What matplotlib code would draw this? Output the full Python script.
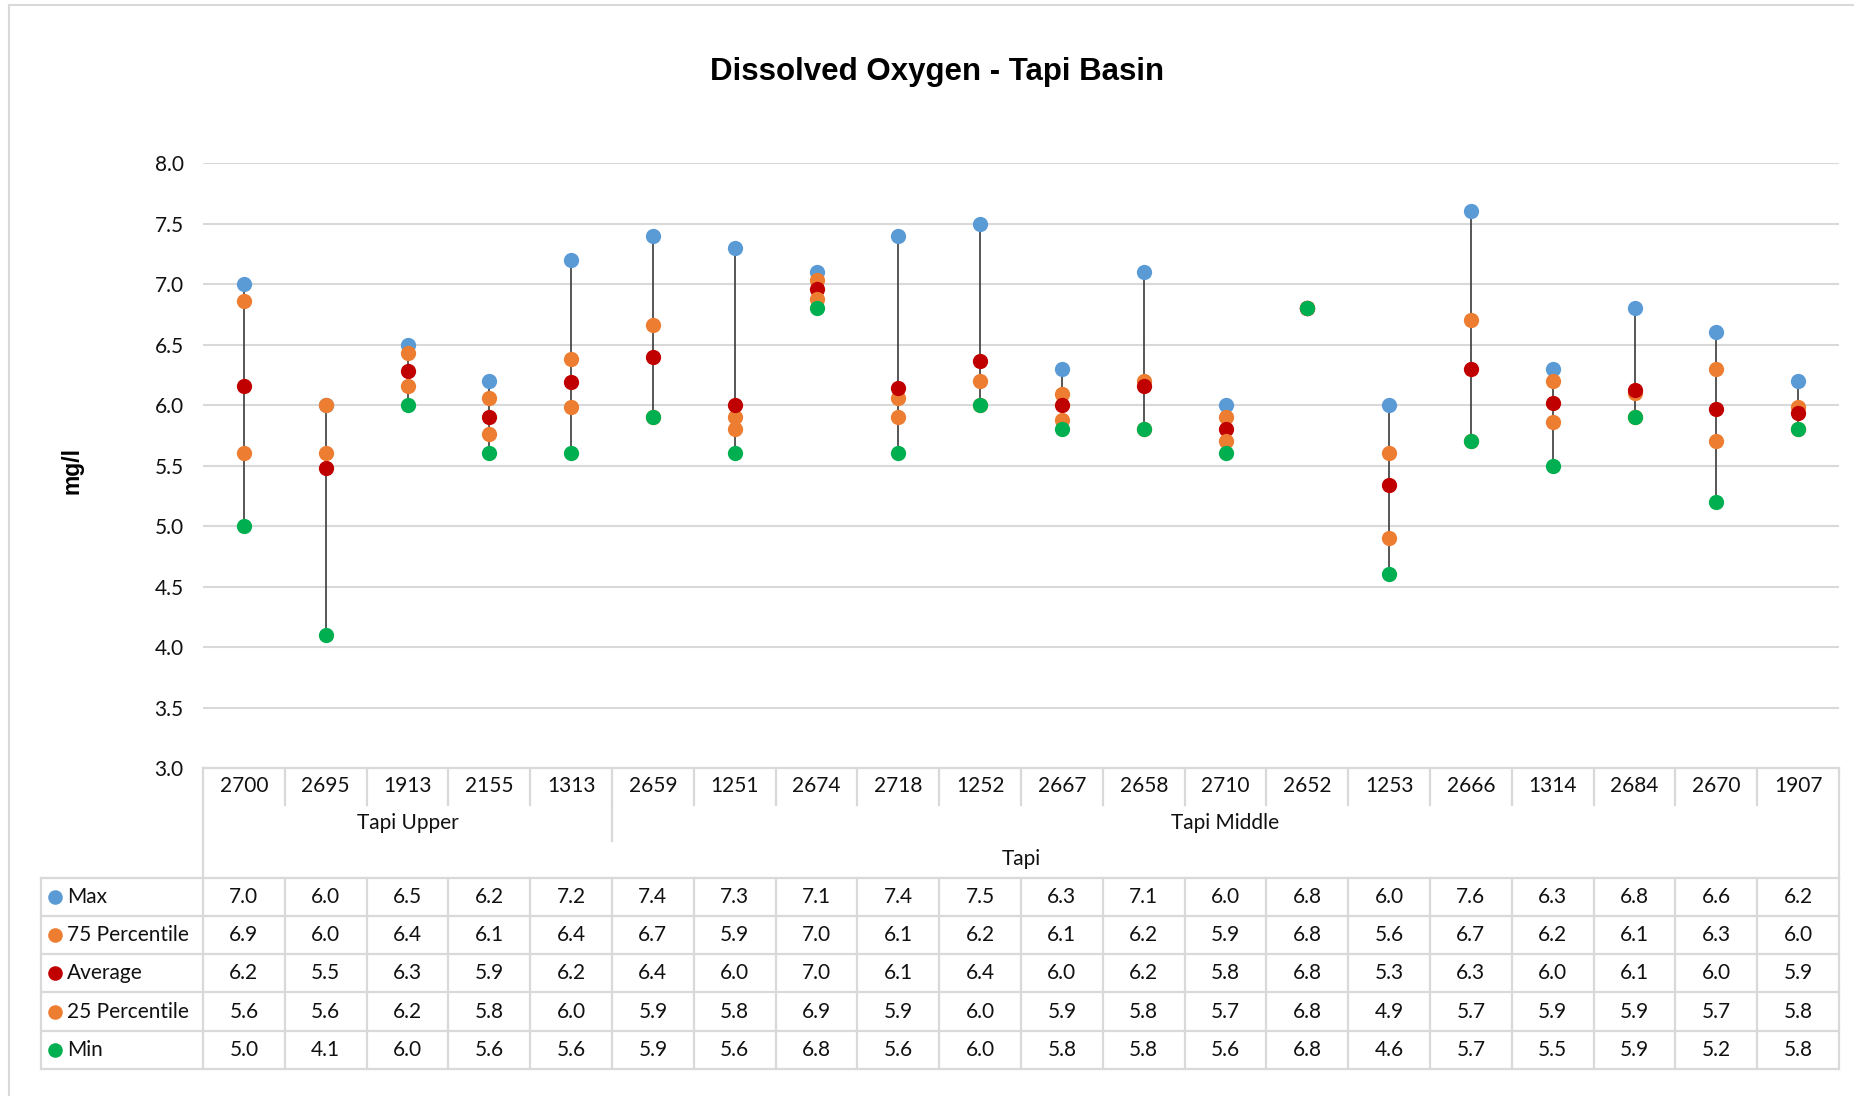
import matplotlib
matplotlib.use("Agg")
import matplotlib.pyplot as plt
from matplotlib.lines import Line2D
import numpy as np

plt.rcParams['font.family'] = ['Lato', 'DejaVu Sans']

# ---- data ----
stations = ['2700', '2695', '1913', '2155', '1313', '2659', '1251', '2674', '2718', '1252',
            '2667', '2658', '2710', '2652', '1253', '2666', '1314', '2684', '2670', '1907']
regions = ['Tapi Upper', 'Tapi Middle']
region_sizes = [5, 15]
basin = 'Tapi'

# values as plotted (table shows them rounded to one decimal)
max_vals = [7.0, 6.0, 6.5, 6.2, 7.2, 7.4, 7.3, 7.1, 7.4, 7.5,
            6.3, 7.1, 6.0, 6.8, 6.0, 7.6, 6.3, 6.8, 6.6, 6.2]
p75_vals = [6.86, 6.0, 6.43, 6.06, 6.38, 6.66, 5.9, 7.03, 6.06, 6.2,
            6.09, 6.2, 5.9, 6.8, 5.6, 6.7, 6.2, 6.1, 6.3, 5.98]
avg_vals = [6.16, 5.48, 6.28, 5.9, 6.19, 6.4, 6.0, 6.96, 6.14, 6.36,
            6.0, 6.16, 5.8, 6.8, 5.34, 6.3, 6.02, 6.12, 5.97, 5.93]
p25_vals = [5.6, 5.6, 6.16, 5.76, 5.98, 5.9, 5.8, 6.88, 5.9, 6.0,
            5.88, 5.8, 5.7, 6.8, 4.9, 5.7, 5.86, 5.9, 5.7, 5.8]
min_vals = [5.0, 4.1, 6.0, 5.6, 5.6, 5.9, 5.6, 6.8, 5.6, 6.0,
            5.8, 5.8, 5.6, 6.8, 4.6, 5.7, 5.5, 5.9, 5.2, 5.8]

series_names = ['Max', '75 Percentile', 'Average', '25 Percentile', 'Min']
series_vals = [max_vals, p75_vals, avg_vals, p25_vals, min_vals]
series_colors = ['#5B9BD5', '#ED7D31', '#C00000', '#ED7D31', '#00B050']

GRID = '#D9D9D9'
TXT = '#111111'

# ---- layout (pixels) ----
W, H = 1854, 1096
L, R = 203, 1839
T_PLOT, B_PLOT, B_TABLE = 163, 768, 1069
LEG_LEFT = 41

fig = plt.figure(figsize=(W / 100, H / 100), dpi=100)
ax = fig.add_axes([L / W, 1 - B_PLOT / H, (R - L) / W, (B_PLOT - T_PLOT) / H])
tx = fig.add_axes([L / W, 1 - B_TABLE / H, (R - L) / W, (B_TABLE - B_PLOT) / H])

n = len(stations)
x = np.arange(n)

# ---- chart ----
ax.vlines(x, min_vals, max_vals, color='#3A3A3A', lw=1.2, zorder=2)
for vals, col in zip(series_vals, series_colors):
    ax.plot(x, vals, 'o', ms=11, color=col, mew=0, zorder=3)

ax.set_xlim(-0.5, n - 0.5)
ax.set_ylim(3, 8)
ax.set_yticks(np.arange(3, 8.01, 0.5))
ax.set_yticklabels([f'{v:.1f}' for v in np.arange(3, 8.01, 0.5)])
ax.set_xticks([])
ax.yaxis.grid(True, color=GRID, lw=1.5, zorder=0)
ax.set_axisbelow(True)
for s in ax.spines.values():
    s.set_visible(False)
ax.tick_params(axis='y', length=0, pad=14, labelsize=15, labelcolor=TXT)

fig.text(937 / W, 1 - 80 / H, 'Dissolved Oxygen - Tapi Basin', ha='center', va='baseline',
         fontsize=22.5, fontweight='bold', family=['Liberation Sans'])
fig.text(72 / W, 1 - 470 / H, 'mg/l', rotation=90, ha='center', va='center',
         fontsize=16.5, fontweight='bold', family=['Liberation Sans'])

# ---- category rows + data table ----
tx.set_xlim(-0.5, n - 0.5)
tx.set_ylim(B_TABLE - B_PLOT, 0)
tx.axis('off')

cat_rows = [0, 36.5, 73, 109.5]
row_h = (B_TABLE - B_PLOT - cat_rows[-1]) / len(series_names)
leg_x = -0.5 - (L - LEG_LEFT) / ((R - L) / n)

lk = dict(color=GRID, lw=1.6, clip_on=False)
tx.plot([-0.5, n - 0.5], [0, 0], **lk)
for i in range(n + 1):
    # station separators run one row; outer edges run through all category rows
    bottom = cat_rows[1] if 0 < i < n else cat_rows[-1]
    tx.plot([i - 0.5, i - 0.5], [0, bottom], **lk)
    tx.plot([i - 0.5, i - 0.5], [cat_rows[-1], B_TABLE - B_PLOT], **lk)
# region separators
edge = -0.5
for size in region_sizes[:-1]:
    edge += size
    tx.plot([edge, edge], [cat_rows[1], cat_rows[2]], **lk)
# table horizontal lines + legend column edge
for k in range(len(series_names) + 1):
    yk = cat_rows[-1] + k * row_h
    tx.plot([leg_x, n - 0.5], [yk, yk], **lk)
tx.plot([leg_x, leg_x], [cat_rows[-1], B_TABLE - B_PLOT], **lk)

for i, st in enumerate(stations):
    tx.text(i, (cat_rows[0] + cat_rows[1]) / 2, st, ha='center', va='center',
            fontsize=15, color=TXT)
start = 0
for reg, size in zip(regions, region_sizes):
    tx.text(start + (size - 1) / 2, (cat_rows[1] + cat_rows[2]) / 2, reg,
            ha='center', va='center', fontsize=15, color=TXT)
    start += size
tx.text((n - 1) / 2, (cat_rows[2] + cat_rows[3]) / 2, basin, ha='center', va='center',
        fontsize=15, color=TXT)

for k, (name, vals, col) in enumerate(zip(series_names, series_vals, series_colors)):
    yc = cat_rows[-1] + (k + 0.5) * row_h
    tx.plot([leg_x + 0.17], [yc], 'o', ms=10.5, color=col, mew=0, clip_on=False)
    tx.text(leg_x + 0.32, yc, name, ha='left', va='center', fontsize=15, color=TXT)
    for i, v in enumerate(vals):
        tx.text(i, yc, f'{v:.1f}', ha='center', va='center', fontsize=15, color=TXT)

# outer chart border (left and top, rest runs off the image)
fig.add_artist(Line2D([9 / W, 9 / W], [0, 1 - 5 / H], color=GRID, lw=1.5, transform=fig.transFigure))
fig.add_artist(Line2D([9 / W, 1], [1 - 5 / H, 1 - 5 / H], color=GRID, lw=1.5, transform=fig.transFigure))

fig.savefig('out.png', dpi=100, facecolor='white')
